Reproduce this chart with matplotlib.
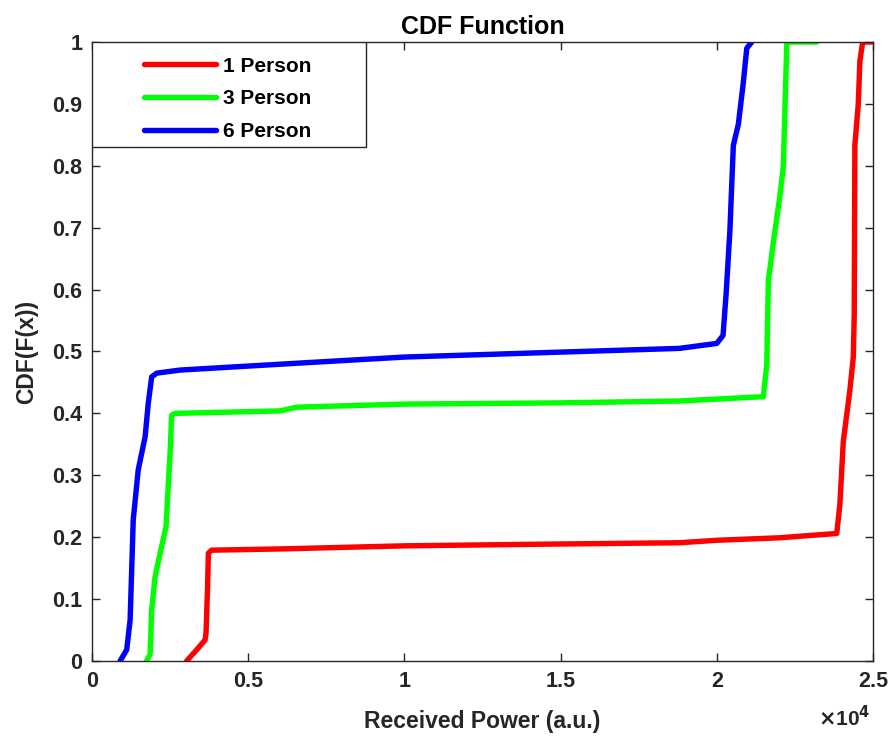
import numpy as np
import matplotlib
matplotlib.use("Agg")
import matplotlib.pyplot as plt
from matplotlib.patches import Rectangle

# received power samples (a.u.) and their CDF values, per occupancy
p1_power = [3030, 3350, 3620, 3650, 3700, 3725, 3830, 6000, 10000, 15000, 18800,
            20000, 22000, 23840, 23940, 24050, 24260, 24370, 24400, 24420,
            24530, 24580, 24670, 24950]
p1_cdf = [0.0, 0.018, 0.034, 0.045, 0.12, 0.174, 0.179, 0.181, 0.186, 0.189, 0.191,
          0.195, 0.199, 0.206, 0.253, 0.355, 0.437, 0.491, 0.56, 0.833,
          0.90, 0.969, 1.0, 1.0]

p3_power = [1750, 1860, 1910, 2020, 2180, 2370, 2440, 2500, 2550, 2660, 6020,
            6550, 10000, 15000, 18800, 21490, 21600, 21650, 21810, 22020,
            22130, 22240, 22340, 23200]
p3_cdf = [0.0, 0.011, 0.082, 0.136, 0.174, 0.217, 0.282, 0.336, 0.397, 0.400, 0.404,
          0.410, 0.415, 0.417, 0.420, 0.427, 0.478, 0.614, 0.676, 0.751,
          0.799, 0.997, 1.0, 1.0]

p6_power = [900, 1110, 1220, 1270, 1320, 1480, 1700, 1800, 1910, 2070, 2820,
            6550, 10000, 15000, 18800, 20000, 20200, 20300, 20420, 20530,
            20690, 20850, 20960, 21120]
p6_cdf = [0.0, 0.018, 0.066, 0.147, 0.228, 0.309, 0.362, 0.416, 0.459, 0.465, 0.470,
          0.481, 0.491, 0.499, 0.505, 0.513, 0.526, 0.594, 0.696, 0.833,
          0.867, 0.935, 0.99, 1.0]

labels = ["1 Person", "3 Person", "6 Person"]
colors = ["#ff0000", "#00ff00", "#0000ff"]

plt.rcParams["font.family"] = ["Liberation Sans", "DejaVu Sans"]
plt.rcParams["font.weight"] = "bold"

fig = plt.figure(figsize=(8.95, 7.42), dpi=100)
ax = fig.add_axes([0.1028, 0.1092, 0.8726, 0.8342])

series = [(p1_power, p1_cdf), (p3_power, p3_cdf), (p6_power, p6_cdf)]
for (x, y), c, lab in zip(series, colors, labels):
    ax.plot(np.array(x) / 1e4, y, color=c, lw=3.9, label=lab,
            solid_capstyle="round", solid_joinstyle="round")

ax.set_xlim(0, 2.5)
ax.set_ylim(0, 1)
ax.set_xticks([0, 0.5, 1, 1.5, 2, 2.5])
ax.set_xticklabels(["0", "0.5", "1", "1.5", "2", "2.5"])
ax.set_yticks(np.arange(0, 1.01, 0.1))
ax.set_yticklabels(["0"] + [f"{v:.1f}" for v in np.arange(0.1, 0.95, 0.1)] + ["1"])
ax.tick_params(direction="in", top=True, right=True, length=6, width=1,
               color="#262626", labelsize=15.5, labelcolor="#262626", pad=7)
for lab in ax.get_xticklabels() + ax.get_yticklabels():
    lab.set_fontweight("bold")
for s in ax.spines.values():
    s.set_color("#262626")
    s.set_linewidth(1)

ax.set_xlabel("Received Power (a.u.)", fontsize=16.5, fontweight="bold",
              color="#262626", labelpad=13)
ax.set_ylabel("CDF(F(x))", fontsize=16.5, fontweight="bold",
              color="#262626", labelpad=10)
ax.set_title("CDF Function", fontsize=18, fontweight="bold", pad=6)
ax.text(0.997, -0.092, r"$\times$10$^{4}$", transform=ax.transAxes,
        ha="right", va="center", fontsize=15, color="#262626")

leg = ax.legend(loc="upper left", bbox_to_anchor=(0.056, 0.99), frameon=False,
                fontsize=15, handlelength=3.45, handletextpad=0.35,
                labelspacing=0.66, borderaxespad=0)
for t in leg.get_texts():
    t.set_fontweight("bold")
ax.add_patch(Rectangle((0, 0.8302), 0.3508, 0.1698, transform=ax.transAxes,
                       facecolor="white", edgecolor="#262626", lw=1, zorder=4))
leg.set_zorder(5)

fig.savefig("out.png", dpi=100)
